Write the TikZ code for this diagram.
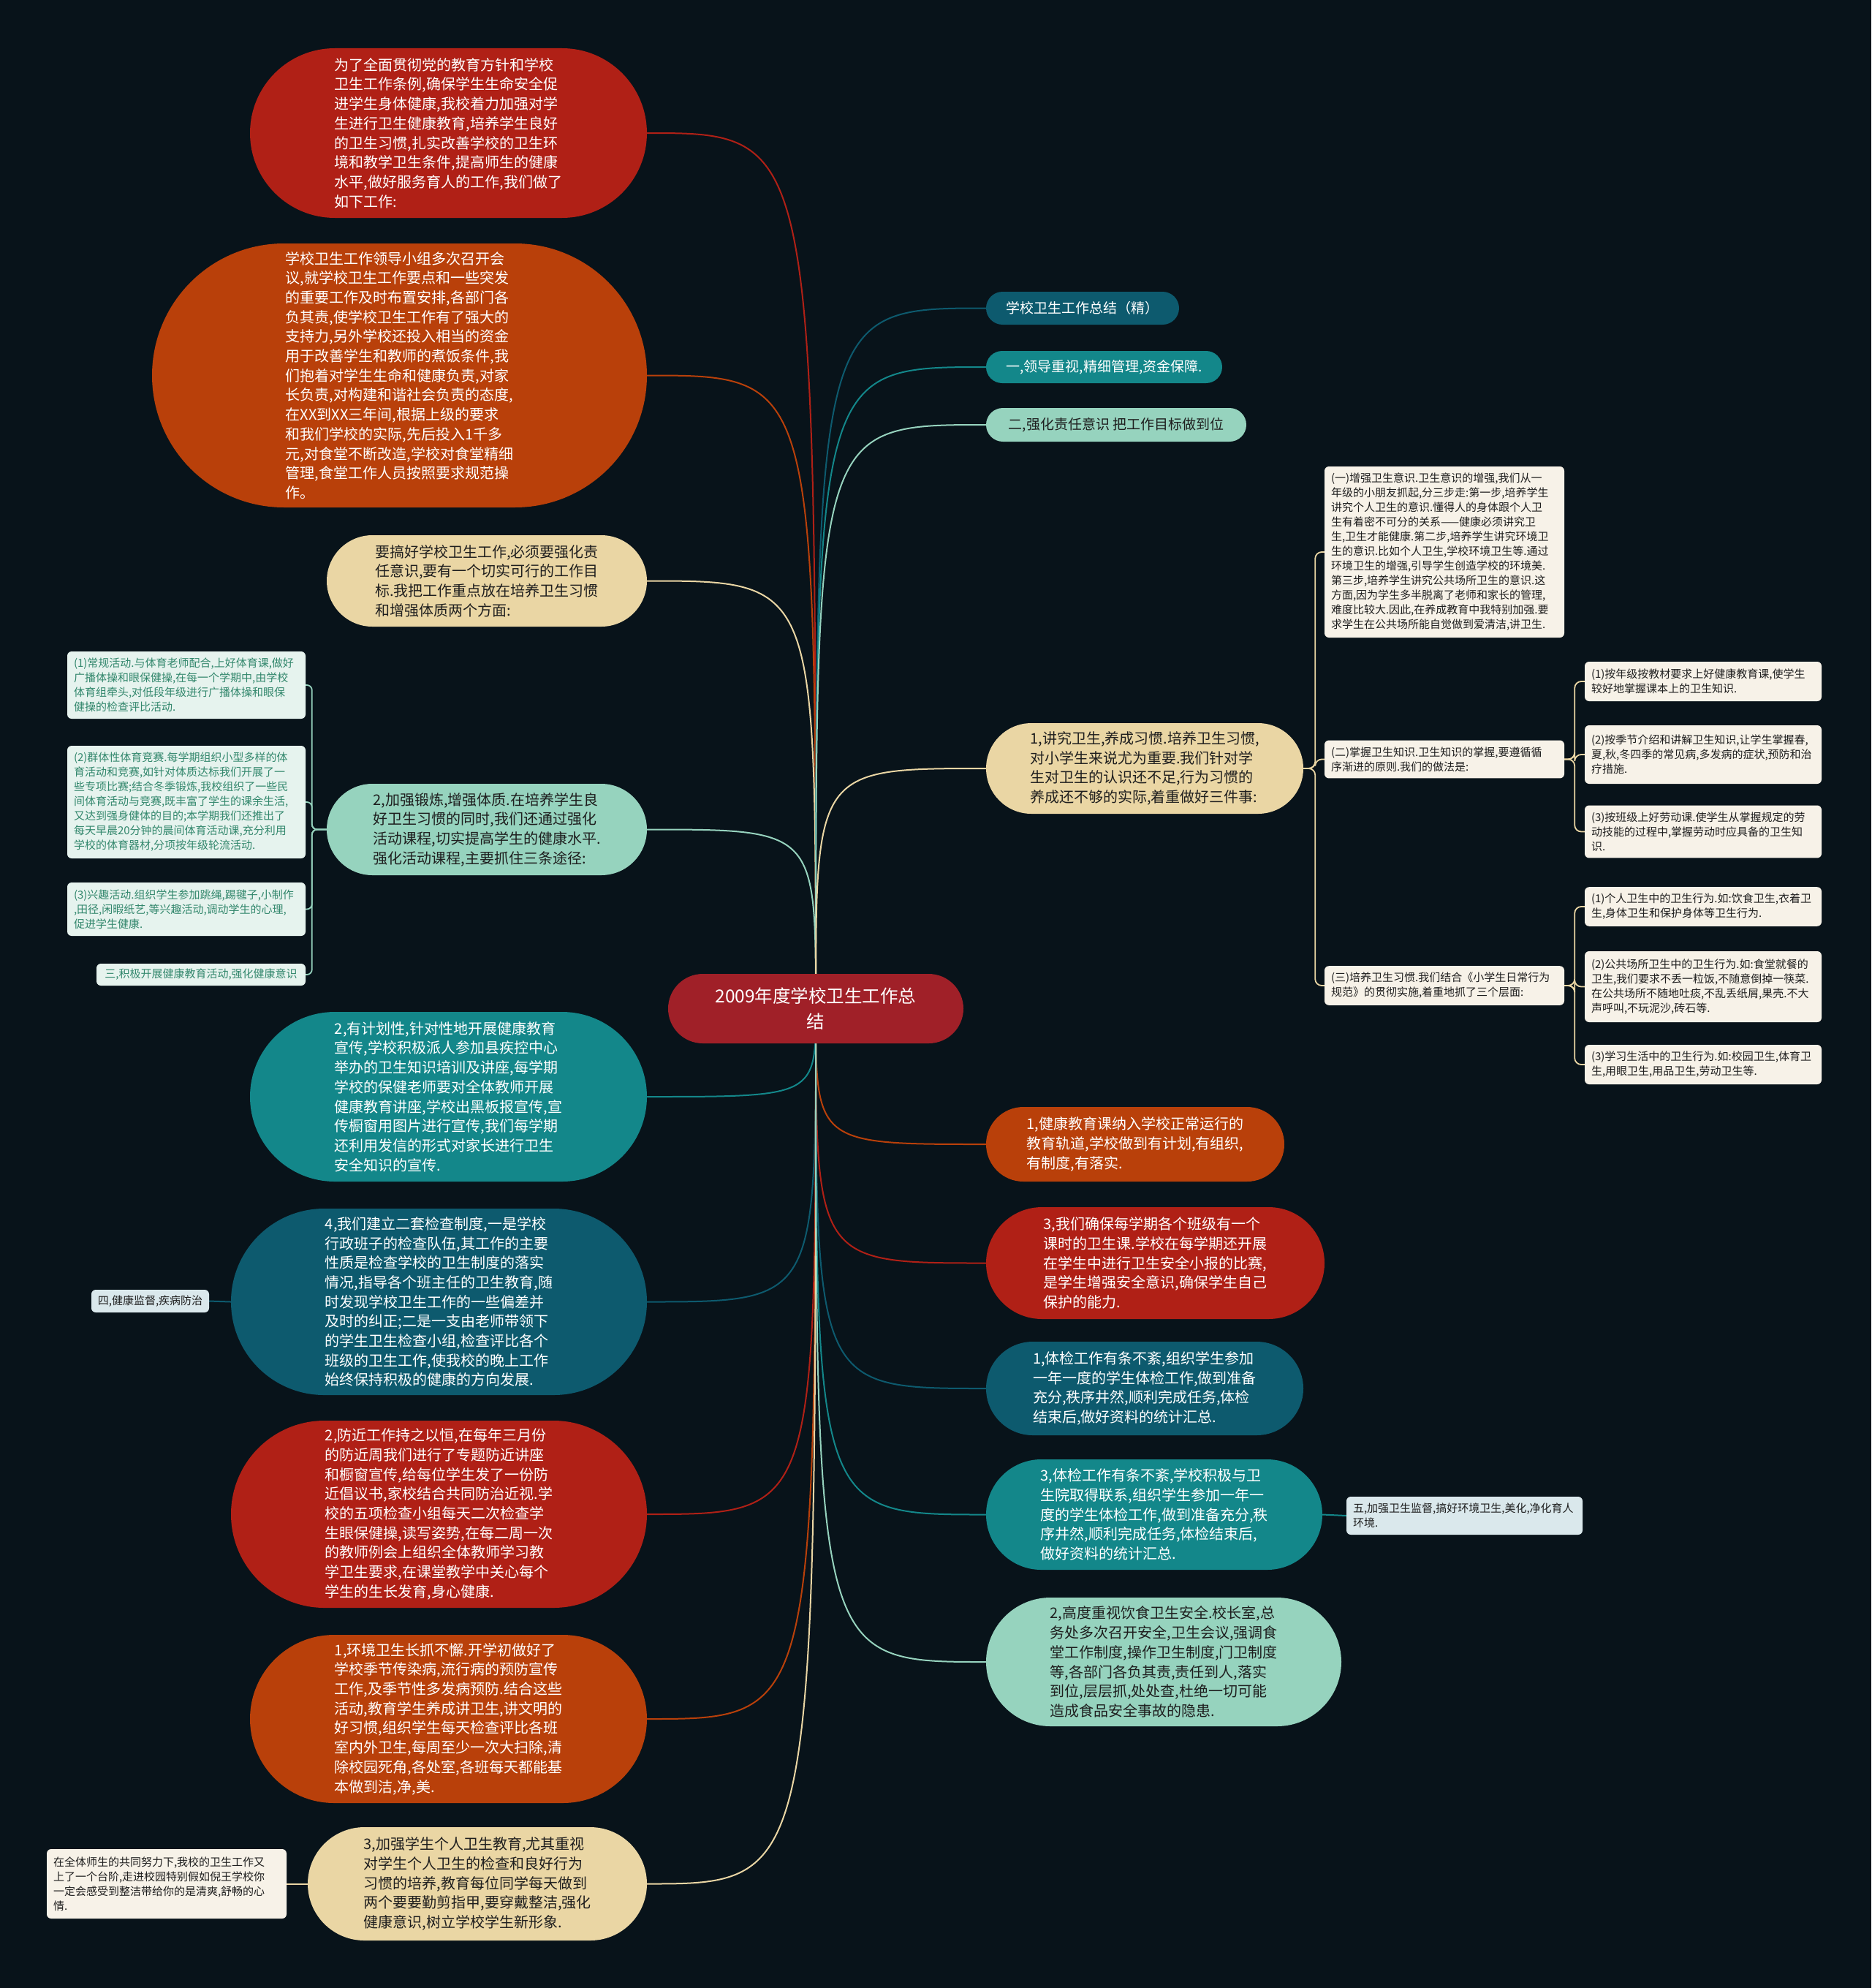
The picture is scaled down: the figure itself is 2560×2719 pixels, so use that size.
\documentclass[tikz,border=0pt]{standalone}
\usepackage{fontspec}
\newfontfamily\cjk{Noto Sans CJK SC}
\usetikzlibrary{backgrounds}
\definecolor{bgdark}{RGB}{8,19,26}
\definecolor{rootN}{RGB}{160,32,40}
\definecolor{redN}{RGB}{176,32,22}
\definecolor{orangeN}{RGB}{185,64,10}
\definecolor{beigeN}{RGB}{234,214,164}
\definecolor{mintN}{RGB}{150,211,190}
\definecolor{tealN}{RGB}{19,135,138}
\definecolor{dtealN}{RGB}{13,90,110}
\definecolor{creamB}{RGB}{247,242,232}
\definecolor{mintB}{RGB}{230,243,238}
\definecolor{mintT}{RGB}{50,135,108}
\definecolor{blueB}{RGB}{218,232,236}
\definecolor{darkT}{RGB}{30,30,30}

\begin{document}
\begin{tikzpicture}[x=1pt,y=-1pt,
    pill/.style 2 args={minimum width=#1,minimum height=#2,rounded corners=#2*0.5,inner sep=4pt,align=left,text=white,font=\cjk\fontsize{20}{26.7}\selectfont},
    pale/.style={text=darkT},
    headline/.style={font=\cjk\fontsize{19}{25}\selectfont},
    leaf/.style={rounded corners=6,inner sep=9pt,align=left,text=darkT,font=\cjk\fontsize{15}{20}\selectfont},
    link/.style={draw=#1,line width=2pt},
    fork/.style={draw=#1,line width=1.8pt,rounded corners=9}
  ]
    \useasboundingbox (0,0) rectangle (2560,2719);

    \node[pill={404}{95},fill=rootN,align=center,font=\cjk\fontsize{24.5}{35}\selectfont] (ctr) at (1116,1379.5) {2009年度学校卫生工作总\\结};

    \node[pill={543}{232},fill=redN] (L1) at (613.5,182) {为了全面贯彻党的教育方针和学校\\卫生工作条例,确保学生生命安全促\\进学生身体健康,我校着力加强对学\\生进行卫生健康教育,培养学生良好\\的卫生习惯,扎实改善学校的卫生环\\境和教学卫生条件,提高师生的健康\\水平,做好服务育人的工作,我们做了\\如下工作:};
    \node[pill={677}{361},fill=orangeN] (L2) at (546.5,513.5) {学校卫生工作领导小组多次召开会\\议,就学校卫生工作要点和一些突发\\的重要工作及时布置安排,各部门各\\负其责,使学校卫生工作有了强大的\\支持力,另外学校还投入相当的资金\\用于改善学生和教师的煮饭条件,我\\们抱着对学生生命和健康负责,对家\\长负责,对构建和谐社会负责的态度,\\在XX到XX三年间,根据上级的要求\\和我们学校的实际,先后投入1千多\\元,对食堂不断改造,学校对食堂精细\\管理,食堂工作人员按照要求规范操\\作。};
    \node[pill={438}{125},fill=beigeN,pale] (L3) at (666,794.5) {要搞好学校卫生工作,必须要强化责\\任意识,要有一个切实可行的工作目\\标.我把工作重点放在培养卫生习惯\\和增强体质两个方面:};
    \node[pill={438}{125},fill=mintN,pale] (L4) at (666,1134.5) {2,加强锻炼,增强体质.在培养学生良\\好卫生习惯的同时,我们还通过强化\\活动课程,切实提高学生的健康水平.\\强化活动课程,主要抓住三条途径:};
    \node[pill={543}{232},fill=tealN] (L5) at (613.5,1500) {2,有计划性,针对性地开展健康教育\\宣传,学校积极派人参加县疾控中心\\举办的卫生知识培训及讲座,每学期\\学校的保健老师要对全体教师开展\\健康教育讲座,学校出黑板报宣传,宣\\传橱窗用图片进行宣传,我们每学期\\还利用发信的形式对家长进行卫生\\安全知识的宣传.};
    \node[pill={569}{255},fill=dtealN] (L6) at (600.5,1780.5) {4,我们建立二套检查制度,一是学校\\行政班子的检查队伍,其工作的主要\\性质是检查学校的卫生制度的落实\\情况,指导各个班主任的卫生教育,随\\时发现学校卫生工作的一些偏差并\\及时的纠正;二是一支由老师带领下\\的学生卫生检查小组,检查评比各个\\班级的卫生工作,使我校的晚上工作\\始终保持积极的健康的方向发展.};
    \node[pill={569}{256},fill=redN] (L7) at (600.5,2071) {2,防近工作持之以恒,在每年三月份\\的防近周我们进行了专题防近讲座\\和橱窗宣传,给每位学生发了一份防\\近倡议书,家校结合共同防治近视.学\\校的五项检查小组每天二次检查学\\生眼保健操,读写姿势,在每二周一次\\的教师例会上组织全体教师学习教\\学卫生要求,在课堂教学中关心每个\\学生的生长发育,身心健康.};
    \node[pill={543}{230},fill=orangeN] (L8) at (613.5,2351) {1,环境卫生长抓不懈.开学初做好了\\学校季节传染病,流行病的预防宣传\\工作,及季节性多发病预防.结合这些\\活动,教育学生养成讲卫生,讲文明的\\好习惯,组织学生每天检查评比各班\\室内外卫生,每周至少一次大扫除,清\\除校园死角,各处室,各班每天都能基\\本做到洁,净,美.};
    \node[pill={464}{155},fill=beigeN,pale] (L9) at (653,2576.5) {3,加强学生个人卫生教育,尤其重视\\对学生个人卫生的检查和良好行为\\习惯的培养,教育每位同学每天做到\\两个要要勤剪指甲,要穿戴整洁,强化\\健康意识,树立学校学生新形象.};

    \node[leaf,fill=mintB,text=mintT,text width=308pt,minimum height=92] (L4a) at (255,937) {(1)常规活动.与体育老师配合,上好体育课,做好\\广播体操和眼保健操,在每一个学期中,由学校\\体育组牵头,对低段年级进行广播体操和眼保\\健操的检查评比活动.};
    \node[leaf,fill=mintB,text=mintT,text width=308pt,minimum height=154] (L4b) at (255,1097) {(2)群体性体育竞赛.每学期组织小型多样的体\\育活动和竞赛,如针对体质达标我们开展了一\\些专项比赛;结合冬季锻炼,我校组织了一些民\\间体育活动与竞赛,既丰富了学生的课余生活,\\又达到强身健体的目的;本学期我们还推出了\\每天早晨20分钟的晨间体育活动课,充分利用\\学校的体育器材,分项按年级轮流活动.};
    \node[leaf,fill=mintB,text=mintT,text width=308pt,minimum height=73] (L4c) at (255,1243.5) {(3)兴趣活动.组织学生参加跳绳,踢毽子,小制作\\,田径,闲暇纸艺,等兴趣活动,调动学生的心理,\\促进学生健康.};
    \node[leaf,fill=mintB,text=mintT,minimum width=286,minimum height=30,inner sep=4pt] (L4d) at (275,1333) {三,积极开展健康教育活动,强化健康意识};
    \node[leaf,fill=blueB,minimum width=161,minimum height=31,inner sep=4pt] (L6a) at (205.5,1779.5) {四,健康监督,疾病防治};
    \node[leaf,fill=creamB,text width=310pt,minimum height=95] (L9a) at (228,2576.5) {在全体师生的共同努力下,我校的卫生工作又\\上了一个台阶,走进校园特别假如倪王学校你\\一定会感受到整洁带给你的是清爽,舒畅的心\\情.};

    \node[pill={264}{45},fill=dtealN,headline] (R1) at (1481,421.5) {学校卫生工作总结（精）};
    \node[pill={323}{44},fill=tealN,headline] (R2) at (1510.5,502) {一,领导重视,精细管理,资金保障.};
    \node[pill={356}{46},fill=mintN,pale,headline] (R3) at (1527,581) {二,强化责任意识 把工作目标做到位};
    \node[pill={434}{124},fill=beigeN,pale] (R4) at (1566,1051) {1,讲究卫生,养成习惯.培养卫生习惯,\\对小学生来说尤为重要.我们针对学\\生对卫生的认识还不足,行为习惯的\\养成还不够的实际,着重做好三件事:};
    \node[pill={408}{102},fill=orangeN] (R5) at (1553,1565) {1,健康教育课纳入学校正常运行的\\教育轨道,学校做到有计划,有组织,\\有制度,有落实.};
    \node[pill={463}{153},fill=redN] (R6) at (1580.5,1727.5) {3,我们确保每学期各个班级有一个\\课时的卫生课.学校在每学期还开展\\在学生中进行卫生安全小报的比赛,\\是学生增强安全意识,确保学生自己\\保护的能力.};
    \node[pill={434}{128},fill=dtealN] (R7) at (1566,1899) {1,体检工作有条不紊,组织学生参加\\一年一度的学生体检工作,做到准备\\充分,秩序井然,顺利完成任务,体检\\结束后,做好资料的统计汇总.};
    \node[pill={460}{151},fill=tealN] (R8) at (1579,2071.5) {3,体检工作有条不紊,学校积极与卫\\生院取得联系,组织学生参加一年一\\度的学生体检工作,做到准备充分,秩\\序井然,顺利完成任务,体检结束后,\\做好资料的统计汇总.};
    \node[pill={486}{176},fill=mintN,pale] (R9) at (1592,2273) {2,高度重视饮食卫生安全.校长室,总\\务处多次召开安全,卫生会议,强调食\\堂工作制度,操作卫生制度,门卫制度\\等,各部门各负其责,责任到人,落实\\到位,层层抓,处处查,杜绝一切可能\\造成食品安全事故的隐患.};
    \node[leaf,fill=blueB,text width=305pt,minimum height=52] (R8a) at (2003.5,2073) {五,加强卫生监督,搞好环境卫生,美化,净化育人\\环境.};

    \node[leaf,fill=creamB,text width=310pt,minimum height=234] (C1) at (1976,755) {(一)增强卫生意识.卫生意识的增强,我们从一\\年级的小朋友抓起,分三步走:第一步,培养学生\\讲究个人卫生的意识.懂得人的身体跟个人卫\\生有着密不可分的关系——健康必须讲究卫\\生,卫生才能健康.第二步,培养学生讲究环境卫\\生的意识.比如个人卫生,学校环境卫生等.通过\\环境卫生的增强,引导学生创造学校的环境美.\\第三步,培养学生讲究公共场所卫生的意识.这\\方面,因为学生多半脱离了老师和家长的管理,\\难度比较大.因此,在养成教育中我特别加强.要\\求学生在公共场所能自觉做到爱清洁,讲卫生.};
    \node[leaf,fill=creamB,text width=310pt,minimum height=47] (C2) at (1976,1038.5) {(二)掌握卫生知识.卫生知识的掌握,要遵循循\\序渐进的原则.我们的做法是:};
    \node[leaf,fill=creamB,text width=310pt,minimum height=52] (C3) at (1976,1348) {(三)培养卫生习惯.我们结合《小学生日常行为\\规范》的贯彻实施,着重地抓了三个层面:};
    \node[leaf,fill=creamB,text width=306pt,minimum height=54] (C2a) at (2330,932) {(1)按年级按教材要求上好健康教育课,使学生\\较好地掌握课本上的卫生知识.};
    \node[leaf,fill=creamB,text width=306pt,minimum height=80] (C2b) at (2330,1032) {(2)按季节介绍和讲解卫生知识,让学生掌握春,\\夏,秋,冬四季的常见病,多发病的症状,预防和治\\疗措施.};
    \node[leaf,fill=creamB,text width=306pt,minimum height=69] (C2c) at (2330,1137.5) {(3)按班级上好劳动课.使学生从掌握规定的劳\\动技能的过程中,掌握劳动时应具备的卫生知\\识.};
    \node[leaf,fill=creamB,text width=306pt,minimum height=52] (C3a) at (2330,1240) {(1)个人卫生中的卫生行为.如:饮食卫生,衣着卫\\生,身体卫生和保护身体等卫生行为.};
    \node[leaf,fill=creamB,text width=306pt,minimum height=97] (C3b) at (2330,1349.5) {(2)公共场所卫生中的卫生行为.如:食堂就餐的\\卫生,我们要求不丢一粒饭,不随意倒掉一筷菜.\\在公共场所不随地吐痰,不乱丢纸屑,果壳.不大\\声呼叫,不玩泥沙,砖石等.};
    \node[leaf,fill=creamB,text width=306pt,minimum height=54] (C3c) at (2330,1456) {(3)学习生活中的卫生行为.如:校园卫生,体育卫\\生,用眼卫生,用品卫生,劳动卫生等.};

    \begin{scope}[on background layer]
      \fill[bgdark] (0,0) rectangle (2560,2719);
      \foreach \n/\c in {L1/redN,L2/orangeN,L3/beigeN,L4/mintN,L5/tealN,L6/dtealN,L7/redN,L8/orangeN,L9/beigeN}
        \draw[link=\c] (ctr.center) .. controls (ctr.center |- \n.east) .. (\n.east);
      \foreach \n/\c in {R1/dtealN,R2/tealN,R3/mintN,R4/beigeN,R5/orangeN,R6/redN,R7/dtealN,R8/tealN,R9/mintN}
        \draw[link=\c] (ctr.center) .. controls (ctr.center |- \n.west) .. (\n.west);
      \foreach \k in {L4a,L4b,L4c,L4d}
        \draw[fork=mintN,rounded corners=7] (L4.west) -- ++(-20,0) |- (\k.east);
      \foreach \k in {C1,C2,C3}
        \draw[fork=beigeN] (R4.east) -- ++(16,0) |- (\k.west);
      \foreach \k in {C2a,C2b,C2c}
        \draw[fork=beigeN] (C2.east) -- ++(14,0) |- (\k.west);
      \foreach \k in {C3a,C3b,C3c}
        \draw[fork=beigeN] (C3.east) -- ++(14,0) |- (\k.west);
      \draw[link=dtealN] (L6.west) -- (L6a.east);
      \draw[link=beigeN] (L9.west) -- (L9a.east);
      \draw[link=tealN] (R8.east) -- (R8a.west);
    \end{scope}
  \end{tikzpicture}
\end{document}
